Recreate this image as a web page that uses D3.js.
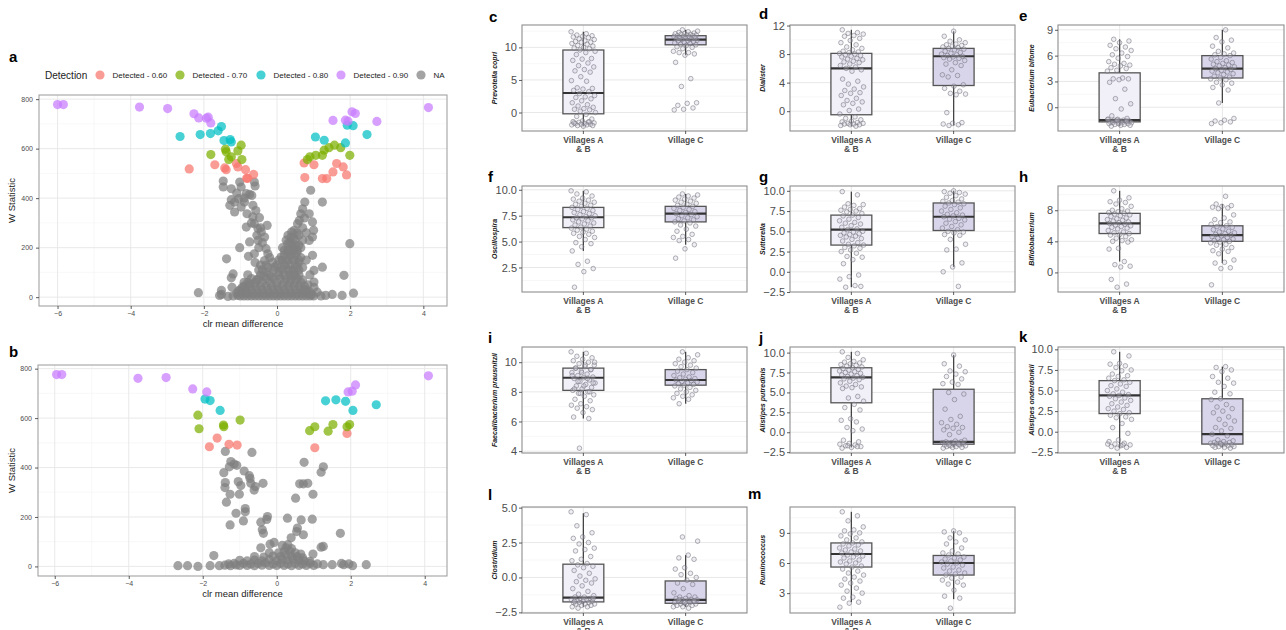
<!DOCTYPE html>
<html><head><meta charset="utf-8">
<script src="https://cdn.jsdelivr.net/npm/d3@7"></script>
<style>body{margin:0;background:#fff}svg{display:block;font-family:"Liberation Sans",Arial,Helvetica,sans-serif}</style>
</head><body><svg id="chart" width="1286" height="630"></svg>
<script>
// ---------------- DATA ----------------
const detectionLevels = ["Detected - 0.60","Detected - 0.70","Detected - 0.80","Detected - 0.90","NA"];
const detectionColors = ["#F8766D","#7CAE00","#00BFC4","#C77CFF","#7F7F7F"];
const volcanoXTicks = [-6,-4,-2,0,2,4];
const volcanoYTicks = [0,200,400,600,800];

// panel a
const aPurple = [[-6.0,778],[-5.84,778],[-3.76,768],[-2.99,762],[-2.27,741],[-2.14,724],[-1.93,723],[-1.88,727],[-1.81,704],[1.53,714],[1.87,715],[1.94,711],[2.05,749],[2.14,742],[2.73,710],[4.14,766]];
const aCyan = [[-2.65,649],[-2.10,657],[-1.82,661],[-1.61,672],[-1.52,689],[-1.45,633],[-1.28,637],[-1.25,627],[1.05,647],[1.29,634],[1.87,623],[1.92,695],[2.08,693],[2.46,657]];
const aGreen = [[-1.81,576],[-1.41,598],[-1.39,587],[-1.25,567],[-1.32,556],[-1.07,591],[-0.98,614],[-0.96,556],[0.83,556],[0.90,567],[1.06,573],[1.24,573],[1.29,594],[1.42,604],[1.57,614],[1.74,604],[1.99,573]];
const aRed = [[-2.40,518],[-1.70,535],[-1.43,522],[-1.39,515],[-1.11,540],[-1.07,526],[-0.86,515],[-0.83,480],[-0.80,480],[-0.64,496],[0.74,542],[0.76,483],[1.01,535],[1.24,479],[1.36,479],[1.53,506],[1.63,540],[1.81,526],[1.90,494]];
const aGrey = [
[-1.47,469],[-1.47,445],[-1.25,438],[-1.02,465],[-0.98,445],[-0.62,465],[-0.60,449],[-0.75,415],[-0.69,411],
[-1.25,394],[-1.16,384],[-1.05,398],[-0.89,384],[-0.84,418],[-1.29,371],[-1.16,344],[-0.98,364],[-0.66,371],[-0.82,337],
[-0.66,324],[-0.48,321],[-0.62,297],[-0.84,283],[-0.27,290],[-0.43,263],[-0.52,277],[-0.34,243],[-0.75,223],[-0.52,229],
[-0.30,196],[-1.02,200],[-0.78,165],[-1.38,155],[-0.62,175],[-0.34,148],[-0.25,175],[-0.12,142],[-0.07,121],
[-1.20,94],[-1.25,78],[-1.23,40],[-1.52,27],[-1.52,11],[-2.15,18],[-1.57,7],[-1.34,3],[-1.07,7],
[-0.55,250],[-0.45,280],[-0.70,300],[-0.58,350],[-0.90,400],[-1.10,420],[-0.50,200],[-0.40,220],[-0.20,160],[-0.60,140],[-0.90,60],[-0.80,90],[-0.50,110],[-0.30,100],
[0.11,162],[0.20,189],[0.29,216],[0.38,243],[0.47,270],[0.56,297],[0.61,310],[0.65,337],[0.70,357],[0.76,384],[0.92,432],[1.24,384],[0.88,337],[0.97,304],[1.00,270],[0.97,243],[0.88,229],[0.97,169],[1.01,108],[1.24,121],[1.01,61],[1.01,40],[1.33,7],[1.51,11],[1.78,7],[1.83,88],[1.99,216],[2.09,16],[0.40,263],
[0.50,230],[0.60,250],[0.70,280],[0.80,260],[0.75,320],[0.45,200],[0.55,180],[0.65,200],[0.30,180],[0.80,150],[0.70,120],[0.60,140],[0.90,90],[0.85,50],[1.10,20],[0.95,10],[1.20,5],
[-1.2,5],[-1.0,5],[-0.9,5],[-0.8,5],[-0.7,5],[-0.6,5],[-0.5,5],[-0.4,5],[-0.3,5],[-0.2,5],[-0.1,5],[0,5],[0.1,5],[0.2,5],[0.3,5],[0.4,5],[0.5,5],[0.6,5],[0.7,5],[0.8,5],[0.9,5],[1.0,5],
[-1.1,15],[-0.95,15],[-0.8,15],[-0.65,15],[-0.5,15],[-0.35,15],[-0.2,15],[-0.05,15],[0.1,15],[0.25,15],[0.4,15],[0.55,15],[0.7,15],[0.85,15],
[-1.0,30],[-0.85,30],[-0.7,30],[-0.55,30],[-0.4,30],[-0.25,30],[-0.1,30],[0.05,30],[0.2,30],[0.35,30],[0.5,30],[0.65,30],[0.8,30],
[-0.9,45],[-0.75,45],[-0.6,45],[-0.45,45],[-0.3,45],[-0.15,45],[0,45],[0.15,45],[0.3,45],[0.45,45],[0.6,45],[0.75,45],
[-0.8,60],[-0.6,60],[-0.4,60],[-0.2,60],[0,60],[0.2,60],[0.35,60],[0.5,60],[0.65,60],
[-0.7,75],[-0.5,75],[-0.3,75],[-0.1,75],[0.1,75],[0.25,75],[0.4,75],[0.55,75],
[-0.45,90],[-0.2,90],[0.05,90],[0.2,90],[0.35,90],[0.5,90],
[-0.4,110],[-0.1,110],[0.15,110],[0.3,110],[0.45,110],[0.6,110],
[-0.3,130],[0.0,130],[0.2,130],[0.35,130],[0.5,130],
[0.15,150],[0.3,150],[0.45,150],[0.6,150],[0.2,170],[0.35,170],[0.5,170],[0.3,190],[0.45,190],[0.55,190],[0.4,210],[0.5,210],
[0.25,230],[0.35,220],[0.45,240],[0.30,250],[0.40,160],[0.25,140],[0.10,120],[0.05,100],[-0.15,80],[-0.35,85],[-0.55,70],[-0.75,55],[-0.95,40],[-1.05,25],[-0.85,20],
[0.60,90],[0.70,70],[0.75,30],[0.90,20],[-0.25,120],[-0.45,130],[0.15,200],[0.05,150],[0.55,120],[0.45,90],[0.35,110],[0.65,160],[0.70,230],[0.55,260],[0.60,210]
];

// panel b
const bPurple = [[-5.95,776],[-5.81,776],[-3.75,761],[-2.99,764],[-2.27,718],[-1.89,706],[1.93,706],[2.04,709],[2.13,734],[4.10,771]];
const bCyan = [[-1.94,677],[-1.80,671],[-1.53,631],[1.32,670],[1.60,674],[1.86,668],[2.06,631],[2.69,654]];
const bGreen = [[-2.13,612],[-2.10,557],[-1.44,572],[-1.43,565],[-0.99,592],[0.89,549],[1.03,565],[1.39,547],[1.52,574],[1.90,565],[1.97,574]];
const bRed = [[-1.82,484],[-1.61,519],[-1.29,494],[-1.07,491],[1.03,480],[1.90,538]];
const bGrey = [
[-1.39,465],[-0.67,461],[-1.24,424],[-1.15,414],[-1.08,409],[-1.28,403],[-1.43,379],[-0.88,386],[-0.74,367],[-0.72,356],
[-1.39,339],[-1.40,319],[-1.04,343],[-0.97,327],[-0.70,336],[-0.58,323],[-0.61,309],[-0.37,336],[-1.26,292],[-1.01,292],[-1.36,260],
[-0.85,234],[-0.85,221],[-1.10,215],[-0.90,184],[-1.26,168],[-0.43,179],[-0.25,202],[-0.27,190],[-0.39,148],[-0.36,134],
[-0.43,75],[-0.18,90],[-0.07,97],[-1.70,44],
[-2.67,3],[-2.41,3],[-2.13,0],[-1.80,3],[-1.55,3],[-1.40,5],[-1.25,3],[-1.10,6],[2.42,7],[2.05,3],[1.81,7],[1.50,7],[1.26,7],[1.75,12],[1.95,10],
[0.74,421],[1.26,403],[1.20,381],[0.62,334],[0.72,334],[0.84,336],[0.98,292],[0.51,276],[0.29,195],[0.66,188],[0.96,191],[0.56,155],[0.54,141],[0.39,116],[0.72,128],[1.72,134],[1.20,78],[1.26,81],[0.98,50],
[-1.3,10],[-1.15,12],[-1.0,4],[-0.9,12],[-0.8,4],[-0.7,10],[-0.6,3],[-0.5,12],[-0.4,5],[-0.3,14],[-0.2,4],[-0.1,10],[0,4],[0.1,12],[0.2,4],[0.3,10],[0.4,3],[0.5,12],[0.6,4],[0.7,10],[0.8,4],[0.9,12],[1.0,4],[1.1,10],
[-1.0,25],[-0.8,22],[-0.6,26],[-0.4,22],[-0.2,28],[0,24],[0.15,30],[0.3,26],[0.45,30],[0.6,24],[0.75,22],[0.9,20],
[-0.6,40],[-0.35,38],[-0.1,42],[0.1,40],[0.25,45],[0.4,42],[0.55,40],[0.7,35],
[-0.2,55],[0.05,55],[0.2,60],[0.35,62],[0.5,55],[0.65,50],[0.25,75],[0.4,72],[0.15,85],[0.3,88]
];

// box plots: stats = [lower whisker, Q1, median, Q3, upper whisker]
const groupLabels = [["Villages A","& B"],["Village C"]];
const cTicks=[0,5,10], cStatsA=[-2.1,-0.2,3.0,9.6,12.4], cStatsC=[8.8,10.4,11.2,11.8,12.7];
const cPtsA=[12.4,12.1,11.9,11.8,11.7,11.6,11.5,11.3,11.2,11.0,10.9,10.8,10.8,10.6,10.5,10.3,10.2,10.0,9.9,9.8,9.6,9.4,9.2,8.9,8.3,8.2,8.0,7.6,7.2,7.0,6.6,6.4,6.2,5.5,4.9,4.8,3.8,3.7,3.6,3.4,3.2,2.9,2.6,2.4,2.3,2.1,1.8,1.5,1.2,1.0,0.8,0.6,0.5,0.4,0.2,0.0,-0.3,-0.6,-1.0,-1.3,-1.4,-1.5,-1.5,-1.6,-1.7,-1.7,-1.8,-1.8,-1.9,-1.9,-2.0,-2.0,-2.1,-1.6,-1.4];
const cPtsC=[12.7,12.5,12.4,12.3,12.2,12.1,12.1,12.0,12.0,11.9,11.9,11.8,11.8,11.7,11.7,11.6,11.5,11.5,11.4,11.3,11.3,11.2,11.1,11.0,11.0,10.9,10.8,10.7,10.6,10.5,10.4,10.3,10.1,10.0,9.8,9.4,9.2,9.2,9.0,8.8,7.7,5.2,4.0,1.5,1.4,1.1,0.7,0.5,0.4];
const dTicks=[0,4,8,12], dStatsA=[-2.1,-0.5,6.0,8.1,11.4], dStatsC=[-2.0,3.6,7.7,8.8,11.2];
const dPtsA=[11.4,11.0,10.9,10.8,10.6,10.5,10.2,9.9,9.6,9.3,9.0,8.8,8.6,8.4,8.3,8.2,8.1,8.0,7.9,7.8,7.7,7.6,7.4,7.3,7.2,7.0,6.9,6.8,6.6,6.4,6.2,6.0,5.8,5.6,4.5,4.2,3.8,3.4,3.1,2.9,2.6,2.5,2.2,1.8,1.5,1.3,1.1,0.9,0.3,0.1,-0.4,-0.8,-1.0,-1.2,-1.4,-1.5,-1.6,-1.7,-1.7,-1.8,-1.8,-1.9,-1.9,-2.0,-2.1];
const dPtsC=[11.2,10.5,10.0,9.8,9.6,9.4,9.3,9.2,9.1,9.0,8.9,8.8,8.7,8.6,8.4,8.2,8.1,8.0,7.9,7.8,7.7,7.6,7.5,7.4,7.3,7.1,6.8,6.6,6.4,5.8,5.1,5.0,4.8,3.7,3.5,3.2,2.8,2.5,2.4,2.3,-0.2,-1.6,-1.7,-1.8,-1.9,-2.0];
const eTicks=[0,3,6,9], eStatsA=[-2.2,-1.7,-1.5,4.0,7.9], eStatsC=[0.5,3.4,4.5,6.0,9.0];
const ePtsA=[7.9,7.7,7.5,7.2,7.0,6.8,6.6,6.3,6.1,5.9,5.7,5.3,5.1,5.0,4.9,4.8,4.6,4.5,4.3,4.2,3.4,3.3,3.3,3.2,2.9,2.1,1.0,0.4,-0.2,-1.0,-1.3,-1.4,-1.4,-1.5,-1.5,-1.6,-1.6,-1.7,-1.7,-1.7,-1.8,-1.8,-1.8,-1.9,-1.9,-1.9,-2.0,-2.0,-2.1,-2.1,-2.2,-1.6,-1.5,-1.4];
const ePtsC=[9.0,8.1,7.8,7.6,7.1,6.9,6.5,6.3,6.2,6.1,6.0,5.8,5.6,5.4,5.3,5.2,5.1,5.0,4.9,4.8,4.7,4.6,4.5,4.4,4.3,4.2,4.1,4.0,3.9,3.8,3.6,3.5,3.4,3.3,3.2,2.9,2.8,2.6,2.3,2.0,0.5,-1.3,-1.5,-1.6,-1.7,-1.8,-1.9];
const fTicks=[2.5,5,7.5,10], fStatsA=[4.1,6.35,7.35,8.3,9.9], fStatsC=[4.7,6.9,7.7,8.4,9.6];
const fPtsA=[9.9,9.8,9.6,9.4,9.2,9.1,9.0,8.9,8.8,8.7,8.6,8.5,8.4,8.3,8.2,8.1,8.0,7.9,7.8,7.7,7.6,7.5,7.4,7.3,7.3,7.2,7.1,7.0,6.9,6.8,6.7,6.6,6.5,6.4,6.3,6.2,6.1,6.0,5.9,5.8,5.7,5.5,5.4,5.2,4.9,4.8,4.5,4.1,3.1,2.8,2.4,2.1,0.6];
const fPtsC=[9.6,9.5,9.4,9.3,9.2,9.1,9.0,8.9,8.8,8.7,8.6,8.5,8.4,8.3,8.2,8.1,8.0,7.9,7.8,7.7,7.6,7.5,7.4,7.3,7.2,7.1,7.0,6.9,6.8,6.6,6.5,6.2,6.0,5.7,5.5,5.4,5.2,5.1,4.7,4.3,3.4];
const gTicks=[-2.5,0,2.5,5,7.5,10], gStatsA=[-1.9,3.3,5.2,7.0,9.9], gStatsC=[0.6,5.1,6.8,8.5,10.0];
const gPtsA=[9.9,9.5,8.4,8.3,8.2,8.0,7.8,7.7,7.6,7.5,7.4,7.2,7.0,6.9,6.7,6.5,6.3,6.1,6.0,5.9,5.7,5.5,5.3,5.2,5.0,4.9,4.8,4.7,4.6,4.5,4.4,4.3,4.1,4.0,3.8,3.6,3.4,3.3,3.2,3.0,2.9,2.7,2.5,2.3,1.9,1.8,1.5,1.0,-0.4,-0.6,-0.9,-1.7,-1.9,-1.8];
const gPtsC=[10.0,9.9,9.8,9.7,9.6,9.4,9.2,9.0,8.8,8.7,8.6,8.5,8.4,8.3,8.1,7.9,7.7,7.5,7.3,7.1,7.0,6.9,6.8,6.6,6.5,6.4,6.2,6.0,5.8,5.6,5.4,5.2,5.0,4.9,4.8,4.6,4.5,4.0,3.4,2.8,2.7,1.1,0.6,0.0,-1.8];
const hTicks=[0,4,8], hStatsA=[1.4,5.0,6.3,7.6,10.5], hStatsC=[1.2,4.0,4.8,6.0,8.8];
const hPtsA=[10.5,9.6,9.3,9.1,9.0,8.8,8.5,8.2,8.0,7.9,7.8,7.7,7.6,7.5,7.4,7.3,7.2,7.0,6.9,6.8,6.7,6.6,6.5,6.4,6.3,6.2,6.1,6.0,5.9,5.8,5.7,5.6,5.4,5.2,5.1,5.0,4.9,4.8,4.6,4.4,4.2,4.1,4.0,3.9,3.1,3.0,1.4,1.0,0.8,0.7,-0.9,-1.5,-1.9];
const hPtsC=[9.8,8.8,8.6,8.5,8.4,8.3,8.2,7.4,7.0,6.8,6.5,6.4,6.2,6.0,5.9,5.8,5.6,5.5,5.3,5.2,5.1,5.0,4.9,4.8,4.7,4.6,4.5,4.4,4.3,4.2,4.1,4.0,3.9,3.8,3.6,3.5,3.2,3.0,2.8,2.7,2.4,1.6,1.3,1.2,0.6,0.5,-1.6];
const iTicks=[4,6,8,10], iStatsA=[6.2,8.1,8.95,9.6,10.7], iStatsC=[7.2,8.45,8.8,9.5,10.7];
const iPtsA=[10.7,10.6,10.4,10.3,10.2,10.1,10.0,9.9,9.8,9.7,9.6,9.5,9.4,9.3,9.2,9.1,9.0,8.95,8.9,8.8,8.7,8.6,8.5,8.4,8.3,8.2,8.1,8.0,7.9,7.8,7.7,7.5,7.4,7.2,7.1,7.0,6.9,6.8,6.6,6.3,6.2,4.2,10.0,9.8,9.6,9.5,9.3,9.1,8.9,8.7,8.6,8.4,8.2,8.0,7.9];
const iPtsC=[10.7,10.5,10.3,10.2,10.1,10.0,9.9,9.8,9.7,9.6,9.5,9.4,9.3,9.2,9.1,9.0,8.95,8.9,8.85,8.8,8.75,8.7,8.65,8.6,8.55,8.5,8.45,8.4,8.3,8.2,8.1,8.0,7.9,7.8,7.7,7.6,7.5,7.2];
const jTicks=[-2.5,0,2.5,5,7.5,10], jStatsA=[-1.9,3.7,6.9,8.1,10.1], jStatsC=[-1.9,-1.5,-1.2,5.4,9.7];
const jPtsA=[10.1,9.9,9.4,9.1,8.9,8.8,8.7,8.6,8.5,8.4,8.3,8.2,8.1,8.0,7.9,7.8,7.7,7.6,7.5,7.4,7.3,7.2,7.1,7.0,6.9,6.8,6.7,6.6,6.4,6.2,6.0,5.8,5.7,5.6,5.5,4.5,4.3,3.9,3.5,3.1,2.8,1.7,1.5,1.3,0.6,0.4,0.2,-1.0,-1.2,-1.4,-1.5,-1.6,-1.7,-1.8,-1.9,-2.0,-1.8,-1.7];
const jPtsC=[9.7,8.6,8.3,7.7,7.6,7.3,7.0,6.7,6.3,6.1,6.0,5.0,4.8,4.1,2.9,2.0,1.6,1.2,1.0,0.7,0.6,0.5,0.3,0.0,-0.3,-1.0,-1.1,-1.2,-1.2,-1.3,-1.3,-1.4,-1.4,-1.5,-1.5,-1.6,-1.6,-1.7,-1.7,-1.8,-1.8,-1.9,-1.9,-2.0,-1.5,-1.6];
const kTicks=[-2.5,0,2.5,5,7.5,10], kStatsA=[-2.0,2.2,4.4,6.2,9.7], kStatsC=[-1.9,-1.5,-0.3,4.0,7.9];
const kPtsA=[9.7,9.2,8.3,8.2,8.0,7.8,7.5,7.4,7.0,6.8,6.7,6.5,6.3,6.2,6.0,5.8,5.6,5.5,5.2,5.0,4.8,4.6,4.5,4.4,4.3,4.1,4.0,3.8,3.6,3.4,3.2,3.0,2.8,2.7,2.5,2.3,2.2,2.0,1.8,1.7,1.5,1.0,0.5,-0.2,-1.0,-1.2,-1.4,-1.5,-1.6,-1.7,-1.8,-1.9,-2.0,-1.5,-1.6];
const kPtsC=[7.9,7.8,7.5,7.3,6.7,6.5,6.0,5.9,5.5,4.8,4.6,4.0,3.9,3.3,3.0,2.8,2.5,2.3,1.8,1.5,1.3,0.9,0.5,0.4,0.1,-0.3,-0.5,-1.0,-1.1,-1.2,-1.3,-1.3,-1.4,-1.4,-1.5,-1.5,-1.6,-1.6,-1.7,-1.7,-1.8,-1.8,-1.9,-1.9,-2.0,-1.5];
const lTicks=[-2.5,0,2.5,5], lStatsA=[-2.1,-1.75,-1.45,0.95,4.6], lStatsC=[-2.1,-1.85,-1.6,-0.25,1.6];
const lPtsA=[4.7,4.5,3.7,3.2,2.9,2.8,2.5,2.4,2.1,2.0,1.9,1.5,1.3,1.2,1.0,0.9,0.8,0.7,0.5,0.3,0.1,-0.1,-0.2,-0.3,-0.4,-0.6,-0.8,-1.0,-1.2,-1.3,-1.4,-1.4,-1.5,-1.5,-1.6,-1.6,-1.7,-1.7,-1.7,-1.8,-1.8,-1.8,-1.9,-1.9,-1.9,-2.0,-2.0,-2.1,-2.1,-2.2,-1.5,-1.6,-1.7];
const lPtsC=[2.9,2.6,1.6,1.4,1.3,0.7,0.6,0.3,0.2,0.0,-0.2,-0.4,-0.5,-0.8,-1.1,-1.3,-1.4,-1.4,-1.5,-1.5,-1.6,-1.6,-1.6,-1.7,-1.7,-1.7,-1.8,-1.8,-1.8,-1.9,-1.9,-1.9,-2.0,-2.0,-2.1,-2.1,-2.2,-1.6,-1.7,-1.8];
const mTicks=[3,6,9], mStatsA=[2.1,5.6,6.9,8.0,11.1], mStatsC=[2.4,4.8,6.0,6.75,9.2];
const mPtsA=[11.1,10.7,10.2,9.6,9.3,9.2,9.0,8.9,8.7,8.5,8.3,8.1,8.0,7.9,7.8,7.7,7.5,7.4,7.3,7.2,7.1,7.0,6.9,6.8,6.7,6.6,6.5,6.3,6.2,6.1,6.0,5.9,5.7,5.6,5.4,5.2,5.0,4.8,4.6,4.4,4.2,4.0,3.8,3.5,3.2,3.0,2.6,2.5,2.1,2.0,1.6];
const mPtsC=[9.2,9.1,9.0,8.5,8.3,8.1,7.9,7.5,7.2,7.0,6.9,6.8,6.6,6.5,6.4,6.3,6.2,6.1,6.0,5.9,5.8,5.6,5.5,5.3,5.2,5.0,4.9,4.8,4.6,4.5,4.3,4.1,3.9,3.8,3.3,2.7,2.5,1.5];

// ---------------- DRAWING ----------------
const svg = d3.select("#chart");
svg.append("rect").attr("width",1286).attr("height",630).attr("fill","#fff");
const FONT = '"Liberation Sans",Arial,Helvetica,sans-serif';

function expand(ext,f){ const d=ext[1]-ext[0]; return [ext[0]-d*f, ext[1]+d*f]; }
function minorBreaks(ticks, dom){
  const step=ticks[1]-ticks[0], out=[];
  for(let k=-1;k<ticks.length;k++){ const v=ticks[0]+step*(k+0.5); if(v>=dom[0]&&v<=dom[1]) out.push(v); }
  return out;
}
function letter(txt,x,y){
  svg.append("text").attr("x",x).attr("y",y).attr("font-size",15).attr("font-weight","bold")
    .attr("font-family",FONT).attr("fill","#000").text(txt);
}
function styleAxis(g, size){
  g.select(".domain").remove();
  g.selectAll(".tick line").attr("stroke","#333").attr("stroke-width",0.8);
  g.selectAll(".tick text").attr("fill","#4d4d4d").attr("font-size",size).attr("font-family",FONT);
}

function volcano(rect, groups, withLegend){
  const all = groups.flatMap(g=>g.pts);
  const x = d3.scaleLinear().domain(expand(d3.extent(all,d=>d[0]),0.05)).range([rect.x0,rect.x1]);
  const y = d3.scaleLinear().domain(expand(d3.extent(all,d=>d[1]),0.05)).range([rect.y1,rect.y0]);
  const g = svg.append("g");
  g.append("rect").attr("x",rect.x0).attr("y",rect.y0).attr("width",rect.x1-rect.x0).attr("height",rect.y1-rect.y0).attr("fill","#fff");
  minorBreaks(volcanoXTicks,x.domain()).forEach(v=>g.append("line").attr("x1",x(v)).attr("x2",x(v)).attr("y1",rect.y0).attr("y2",rect.y1).attr("stroke","#f3f3f3").attr("stroke-width",0.6));
  minorBreaks(volcanoYTicks,y.domain()).forEach(v=>g.append("line").attr("y1",y(v)).attr("y2",y(v)).attr("x1",rect.x0).attr("x2",rect.x1).attr("stroke","#f3f3f3").attr("stroke-width",0.6));
  volcanoXTicks.forEach(v=>g.append("line").attr("x1",x(v)).attr("x2",x(v)).attr("y1",rect.y0).attr("y2",rect.y1).attr("stroke","#e6e6e6").attr("stroke-width",0.9));
  volcanoYTicks.forEach(v=>g.append("line").attr("y1",y(v)).attr("y2",y(v)).attr("x1",rect.x0).attr("x2",rect.x1).attr("stroke","#e6e6e6").attr("stroke-width",0.9));
  groups.forEach(gr=>{
    g.selectAll(null).data(gr.pts).enter().append("circle")
      .attr("cx",d=>x(d[0])).attr("cy",d=>y(d[1])).attr("r",4.6)
      .attr("fill",gr.color).attr("fill-opacity",0.72);
  });
  g.append("rect").attr("x",rect.x0).attr("y",rect.y0).attr("width",rect.x1-rect.x0).attr("height",rect.y1-rect.y0)
    .attr("fill","none").attr("stroke","#999").attr("stroke-width",1);
  const ax = g.append("g").attr("transform",`translate(0,${rect.y1})`).call(d3.axisBottom(x).tickValues(volcanoXTicks).tickSize(3).tickPadding(2));
  styleAxis(ax,7);
  const ay = g.append("g").attr("transform",`translate(${rect.x0},0)`).call(d3.axisLeft(y).tickValues(volcanoYTicks).tickSize(3).tickPadding(3));
  styleAxis(ay,7);
  g.append("text").attr("x",(rect.x0+rect.x1)/2).attr("y",rect.y1+21).attr("text-anchor","middle")
    .attr("font-size",9.5).attr("font-family",FONT).attr("fill","#1a1a1a").text("clr mean difference");
  g.append("text").attr("transform",`translate(15,${(rect.y0+rect.y1)/2}) rotate(-90)`).attr("text-anchor","middle")
    .attr("font-size",9.5).attr("font-family",FONT).attr("fill","#1a1a1a").text("W Statistic");
  if(withLegend){
    const lg = svg.append("g");
    lg.append("text").attr("x",45).attr("y",78.5).attr("font-size",10).attr("font-family",FONT).attr("fill","#1a1a1a").text("Detection");
    const cx=[100,180,261,341,421];
    detectionLevels.forEach((lab,i)=>{
      lg.append("circle").attr("cx",cx[i]).attr("cy",75).attr("r",4.6).attr("fill",detectionColors[i]).attr("fill-opacity",0.72);
      lg.append("text").attr("x",cx[i]+12.5).attr("y",78).attr("font-size",8).attr("font-family",FONT).attr("fill","#1a1a1a").text(lab);
    });
  }
}

// panel a & b
letter("a",9,62);
volcano({x0:39,x1:447,y0:95,y1:306},[
  {pts:aGrey,color:detectionColors[4]},{pts:aRed,color:detectionColors[0]},{pts:aGreen,color:detectionColors[1]},
  {pts:aCyan,color:detectionColors[2]},{pts:aPurple,color:detectionColors[3]}],true);
letter("b",9,357);
volcano({x0:38,x1:447,y0:365,y1:576},[
  {pts:bGrey,color:detectionColors[4]},{pts:bRed,color:detectionColors[0]},{pts:bGreen,color:detectionColors[1]},
  {pts:bCyan,color:detectionColors[2]},{pts:bPurple,color:detectionColors[3]}],false);

// box panels
const colX = [[522,747],[790,1015],[1058,1284]];
const rowY = [[25,131],[186,292],[347,453],[507,613]];
const titleX = [494,762,1031];
const boxFills = ["#f1f0f8","#d8d5eb"];
const boxPanels = [
  {id:"c",title:"Prevotella copri",ticks:cTicks,dec:0,stats:[cStatsA,cStatsC],pts:[cPtsA,cPtsC],col:0,row:0,lx:489,ly:22},
  {id:"d",title:"Dialister",ticks:dTicks,dec:0,stats:[dStatsA,dStatsC],pts:[dPtsA,dPtsC],col:1,row:0,lx:759,ly:19},
  {id:"e",title:"Eubacterium bifome",ticks:eTicks,dec:0,stats:[eStatsA,eStatsC],pts:[ePtsA,ePtsC],col:2,row:0,lx:1019,ly:21},
  {id:"f",title:"Oscillospira",ticks:fTicks,dec:1,stats:[fStatsA,fStatsC],pts:[fPtsA,fPtsC],col:0,row:1,lx:488,ly:182},
  {id:"g",title:"Sutterella",ticks:gTicks,dec:1,stats:[gStatsA,gStatsC],pts:[gPtsA,gPtsC],col:1,row:1,lx:759,ly:182},
  {id:"h",title:"Bifidobacterium",ticks:hTicks,dec:0,stats:[hStatsA,hStatsC],pts:[hPtsA,hPtsC],col:2,row:1,lx:1019,ly:182},
  {id:"i",title:"Faecalibacterium prausnitzii",ticks:iTicks,dec:0,stats:[iStatsA,iStatsC],pts:[iPtsA,iPtsC],col:0,row:2,lx:488,ly:343},
  {id:"j",title:"Alistipes putredinis",ticks:jTicks,dec:1,stats:[jStatsA,jStatsC],pts:[jPtsA,jPtsC],col:1,row:2,lx:759,ly:343},
  {id:"k",title:"Alistipes onderdonkii",ticks:kTicks,dec:1,stats:[kStatsA,kStatsC],pts:[kPtsA,kPtsC],col:2,row:2,lx:1019,ly:342},
  {id:"l",title:"Clostridium",ticks:lTicks,dec:1,stats:[lStatsA,lStatsC],pts:[lPtsA,lPtsC],col:0,row:3,lx:488,ly:500},
  {id:"m",title:"Ruminococcus",ticks:mTicks,dec:0,stats:[mStatsA,mStatsC],pts:[mPtsA,mPtsC],col:1,row:3,lx:748,ly:499}
];

function boxPanel(p){
  const [x0,x1]=colX[p.col], [y0,y1]=rowY[p.row];
  const allVals = p.pts[0].concat(p.pts[1], p.stats[0], p.stats[1]);
  const y = d3.scaleLinear().domain(expand(d3.extent(allVals),0.05)).range([y1,y0]);
  const x = d3.scaleLinear().domain([0.4,2.6]).range([x0,x1]);
  const g = svg.append("g");
  g.append("rect").attr("x",x0).attr("y",y0).attr("width",x1-x0).attr("height",y1-y0).attr("fill","#fff");
  minorBreaks(p.ticks,y.domain()).forEach(v=>g.append("line").attr("x1",x0).attr("x2",x1).attr("y1",y(v)).attr("y2",y(v)).attr("stroke","#f2f2f2").attr("stroke-width",0.6));
  p.ticks.filter(v=>v>=y.domain()[0]&&v<=y.domain()[1]).forEach(v=>g.append("line").attr("x1",x0).attr("x2",x1).attr("y1",y(v)).attr("y2",y(v)).attr("stroke","#e5e5e5").attr("stroke-width",0.9));
  [1,2].forEach(c=>g.append("line").attr("x1",x(c)).attr("x2",x(c)).attr("y1",y0).attr("y2",y1).attr("stroke","#e5e5e5").attr("stroke-width",0.9));
  [0,1].forEach(k=>{
    const s=p.stats[k], c=k+1, hw=0.2;
    g.append("line").attr("x1",x(c)).attr("x2",x(c)).attr("y1",y(s[0])).attr("y2",y(s[1])).attr("stroke","#444").attr("stroke-width",1.3);
    g.append("line").attr("x1",x(c)).attr("x2",x(c)).attr("y1",y(s[3])).attr("y2",y(s[4])).attr("stroke","#444").attr("stroke-width",1.3);
    g.append("rect").attr("x",x(c-hw)).attr("width",x(c+hw)-x(c-hw)).attr("y",y(s[3])).attr("height",y(s[1])-y(s[3]))
      .attr("fill",boxFills[k]).attr("stroke","#555").attr("stroke-width",1.3);
    g.append("line").attr("x1",x(c-hw)).attr("x2",x(c+hw)).attr("y1",y(s[2])).attr("y2",y(s[2])).attr("stroke","#333").attr("stroke-width",2.2);
  });
  // jittered points (deterministic horizontal spread)
  [0,1].forEach(k=>{
    const c=k+1;
    g.selectAll(null).data(p.pts[k]).enter().append("circle")
      .attr("cx",(d,i)=>x(c + (((i*0.6180339887 + k*0.37 + p.col*0.13)%1)-0.5)*0.24))
      .attr("cy",d=>y(d)).attr("r",2.3)
      .attr("fill","#c9c8d4").attr("fill-opacity",0.3).attr("stroke","#6e6e78").attr("stroke-opacity",0.75).attr("stroke-width",0.7);
  });
  g.append("rect").attr("x",x0).attr("y",y0).attr("width",x1-x0).attr("height",y1-y0).attr("fill","none").attr("stroke","#8e8e8e").attr("stroke-width",1.1);
  const fmt = p.dec ? d3.format(".1f") : d3.format("d");
  const ay = g.append("g").attr("transform",`translate(${x0},0)`).call(d3.axisLeft(y).tickValues(p.ticks).tickFormat(fmt).tickSize(3).tickPadding(2));
  styleAxis(ay,11);
  [1,2].forEach((c,k)=>{
    g.append("line").attr("x1",x(c)).attr("x2",x(c)).attr("y1",y1).attr("y2",y1+3).attr("stroke","#333").attr("stroke-width",0.8);
    groupLabels[k].forEach((t,li)=>g.append("text").attr("x",x(c)).attr("y",y1+12+li*8.5).attr("text-anchor","middle")
      .attr("font-size",8.5).attr("font-weight","bold").attr("font-family",FONT).attr("fill","#4d4d4d").text(t));
  });
  g.append("text").attr("transform",`translate(${titleX[p.col]+2.5},${(y0+y1)/2}) rotate(-90)`).attr("text-anchor","middle")
    .attr("font-size",7).attr("font-weight","bold").attr("font-style","italic").attr("font-family",FONT).attr("fill","#1a1a1a").text(p.title);
  letter(p.id,p.lx,p.ly);
}
boxPanels.forEach(boxPanel);
</script>
</body></html>
